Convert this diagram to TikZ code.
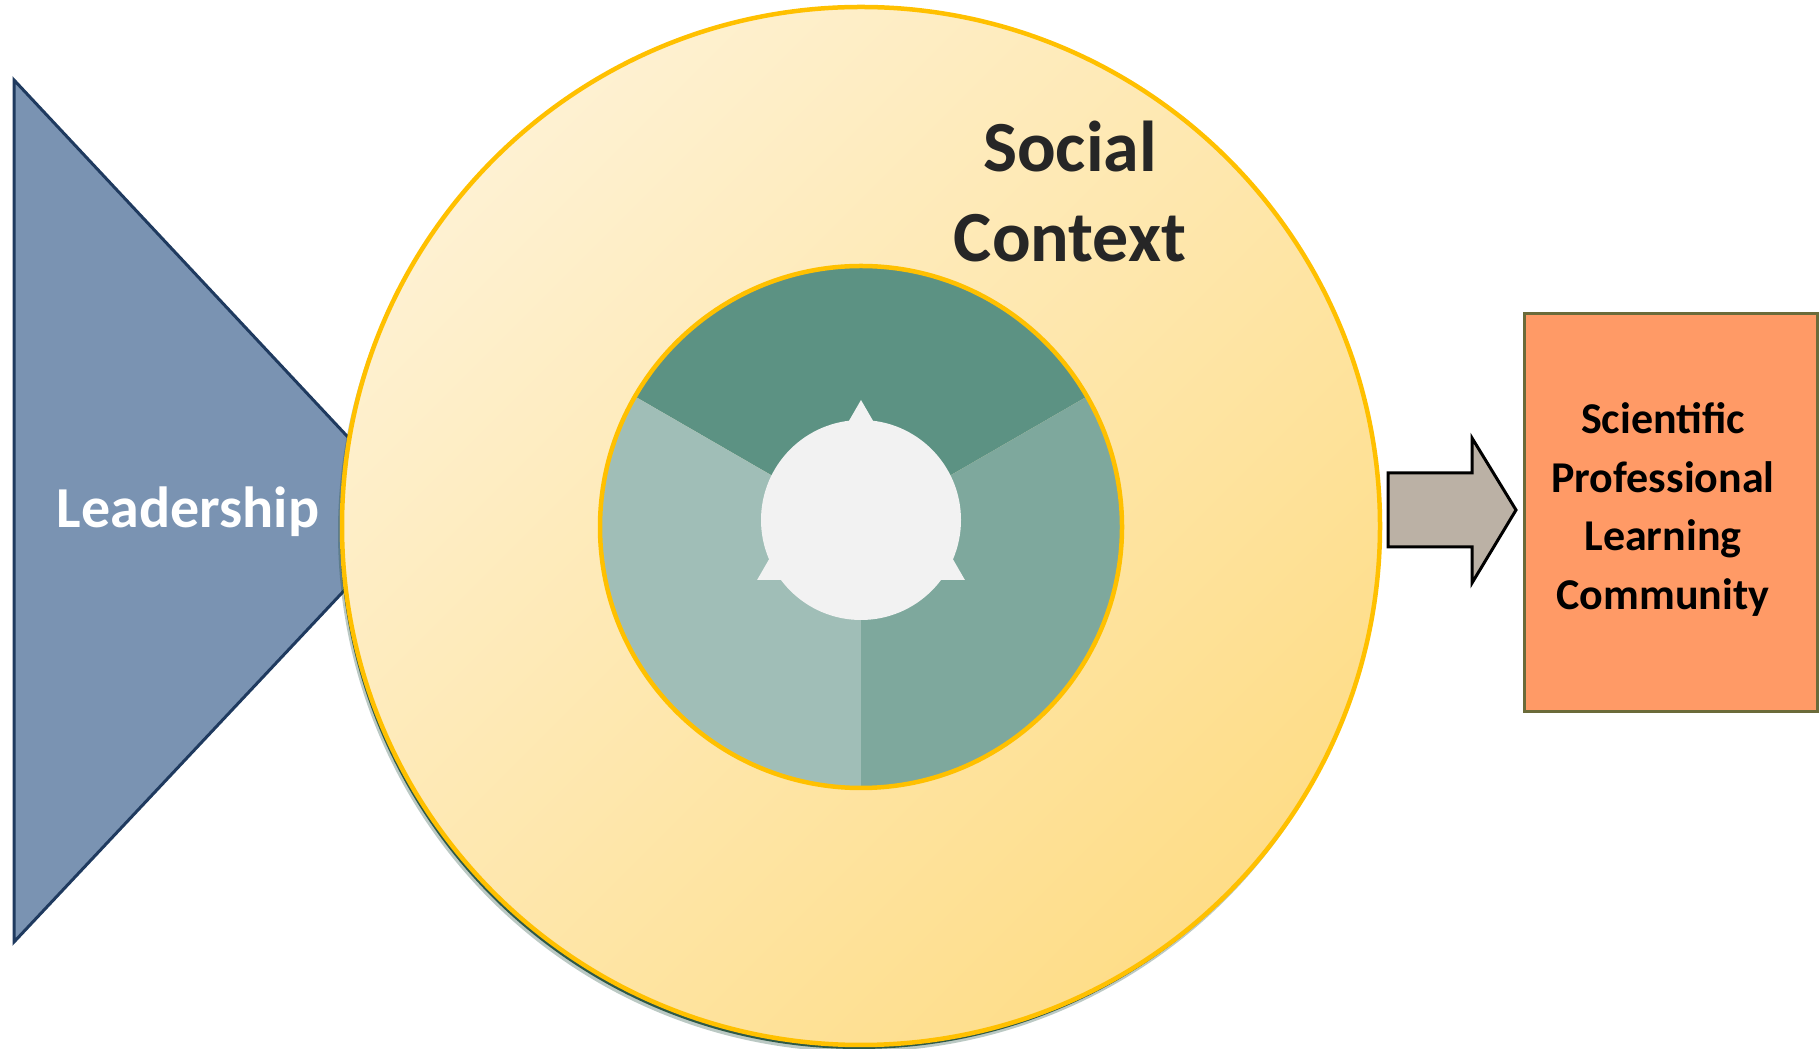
\documentclass[tikz,border=0pt]{standalone}
\usepackage{fontspec}
\setmainfont{Carlito}
\usetikzlibrary{calc}
\definecolor{triFill}{HTML}{7A93B2}
\definecolor{triLine}{HTML}{1F3A5F}
\definecolor{ringLine}{HTML}{FFC000}
\definecolor{ringLight}{HTML}{FEF1D2}
\definecolor{ringDark}{HTML}{FEDD88}
\definecolor{shadowGreen}{HTML}{1E4D3A}
\definecolor{segTop}{HTML}{5C9283}
\definecolor{segRight}{HTML}{7EA89D}
\definecolor{segLeft}{HTML}{A0BEB7}
\definecolor{hubWhite}{HTML}{F2F2F2}
\definecolor{textDark}{HTML}{262626}
\definecolor{arrowFill}{HTML}{BBB1A5}
\definecolor{boxFill}{HTML}{FF9A66}
\definecolor{boxLine}{HTML}{6B6B3A}
\begin{document}
\begin{tikzpicture}[x=1pt,y=1pt,
  bigtext/.style={font=\bfseries\fontsize{72}{90}\selectfont, text=textDark, align=center, inner sep=0pt},
  leadtext/.style={font=\bfseries\fontsize{58}{70}\selectfont, text=white, inner sep=0pt},
  boxtext/.style={font=\bfseries\fontsize{44}{58.6}\selectfont, text=black, align=center, inner sep=0pt}]
\useasboundingbox (0,0) rectangle (1820,1049);
% Leadership triangle
\draw[fill=triFill, draw=triLine, line width=3pt, line join=miter] (14,969) -- (418,537) -- (14,107) -- cycle;
\node[leadtext] (lead) at (188,537) {Leadership};
% big circle with shadow
\coordinate (c) at (861,523);
\fill[shadowGreen, opacity=0.3] (858,517) circle[radius=520pt];
\fill[shadowGreen, opacity=0.9] (859,519) circle[radius=519pt];
\shade[top color=ringLight, bottom color=ringDark, shading angle=45] (c) circle[radius=519pt];
\draw[ringLine, line width=4.5pt] (c) circle[radius=519pt];
% inner segmented circle
\coordinate (ic) at (861,522);
\fill[segTop] (ic) -- ++(30:261pt) arc[start angle=30, end angle=150, radius=261pt] -- cycle;
\fill[segLeft] (ic) -- ++(150:261pt) arc[start angle=150, end angle=270, radius=261pt] -- cycle;
\fill[segRight] (ic) -- ++(270:261pt) arc[start angle=270, end angle=390, radius=261pt] -- cycle;
\draw[ringLine, line width=4.5pt] (ic) circle[radius=261pt];
% hub
\coordinate (hc) at (861,529);
\fill[hubWhite] (hc) circle[radius=100pt];
\fill[hubWhite] ($(hc)+(90:120pt)$) -- ($(hc)+(210:120pt)$) -- ($(hc)+(330:120pt)$) -- cycle;
\node[bigtext] (social) at (1070,857) {Social\\Context};
% block arrow
\draw[fill=arrowFill, draw=black, line width=3pt, line join=miter]
  (1388,576) -- (1472,576) -- (1472,611) -- (1516,539) -- (1472,466) -- (1472,502) -- (1388,502) -- cycle;
% result box
\draw[fill=boxFill, draw=boxLine, line width=3pt] (1524,337) rectangle (1817,735);
\node[boxtext] (spl) at (1663,539.5) {Scientific\\Professional\\Learning\\Community};
\end{tikzpicture}
\end{document}
